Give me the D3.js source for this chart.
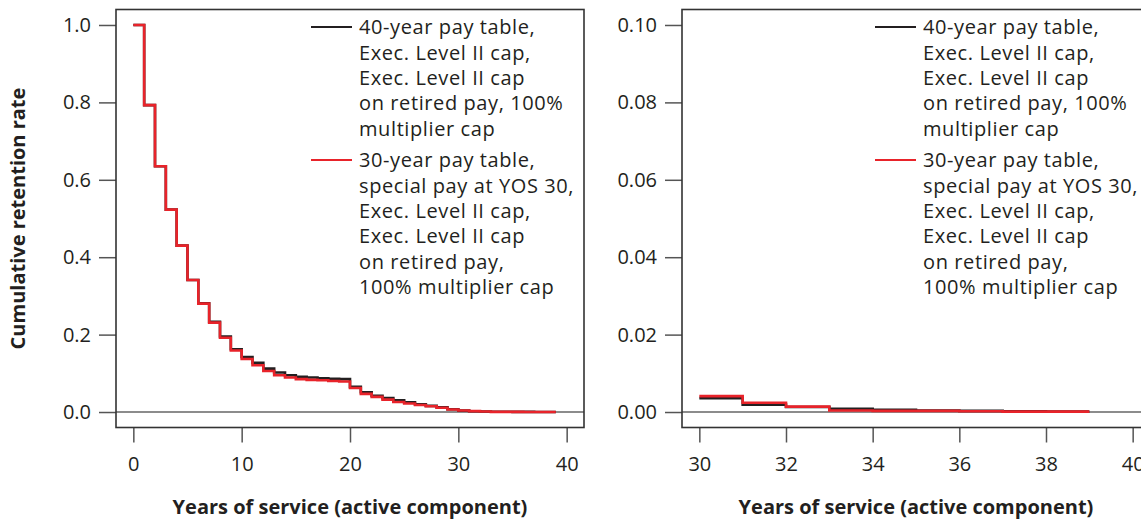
<!DOCTYPE html>
<html>
<head>
<meta charset="utf-8">
<script src="https://cdn.jsdelivr.net/npm/d3@7"></script>
<style>
  body { margin: 0; background: #fff; }
  svg { display: block; font-family: "Open Sans", sans-serif; }
</style>
</head>
<body>
<svg id="canvas" width="1141" height="520"></svg>
<script>
// Years of service
const years = [0, 1, 2, 3, 4, 5, 6, 7, 8, 9, 10, 11, 12, 13, 14, 15, 16, 17, 18, 19,
  20, 21, 22, 23, 24, 25, 26, 27, 28, 29, 30, 31, 32, 33, 34, 35, 36, 37, 38, 39];

// 40-year pay table (black)
const retention40 = [1.000, 0.793, 0.635, 0.523, 0.430, 0.341, 0.281, 0.233, 0.195, 0.162,
  0.142, 0.127, 0.112, 0.102, 0.095, 0.091, 0.089, 0.087, 0.086, 0.085,
  0.065, 0.051, 0.042, 0.036, 0.030, 0.025, 0.020, 0.016, 0.012, 0.007,
  0.0036, 0.0019, 0.0013, 0.0008, 0.0006, 0.0004, 0.0003, 0.0002, 0.0001, 0.0001];

// 30-year pay table with special pay at YOS 30 (red)
const retention30 = [1.000, 0.793, 0.635, 0.523, 0.430, 0.341, 0.280, 0.231, 0.192, 0.159,
  0.137, 0.121, 0.106, 0.095, 0.089, 0.085, 0.083, 0.082, 0.080, 0.079,
  0.062, 0.047, 0.039, 0.032, 0.026, 0.022, 0.018, 0.015, 0.011, 0.0065,
  0.0041, 0.0024, 0.0014, 0.0004, 0.0003, 0.0003, 0.0002, 0.0001, 0.0001, 0.0001];

const leftXTicks = [0, 10, 20, 30, 40];
const leftYTicks = [0, 0.2, 0.4, 0.6, 0.8, 1.0];
const rightXTicks = [30, 32, 34, 36, 38, 40];
const rightYTicks = [0, 0.02, 0.04, 0.06, 0.08, 0.10];

const legend40 = ["40-year pay table,", "Exec. Level II cap,", "Exec. Level II cap",
  "on retired pay, 100%", "multiplier cap"];
const legend30 = ["30-year pay table,", "special pay at YOS 30,", "Exec. Level II cap,",
  "Exec. Level II cap", "on retired pay,", "100% multiplier cap"];

const xTitle = "Years of service (active component)";
const yTitle = "Cumulative retention rate";

const BLACK = "#231f20";
const RED = "#e8232a";
const TEXT = "#231f20";

const svg = d3.select("#canvas");

const plotTop = 9.5, plotBottom = 427.5, panelW = 468;

// R style 4% padding on each side of the limits
const pad = (lo, hi) => { const d = (hi - lo) * 0.04; return [lo - d, hi + d]; };

const drawPanel = (left, xLim, yLim, xTicks, yTicks, yFmt, minYear, legendX) => {
  const x = d3.scaleLinear().domain(pad(...xLim)).range([left, left + panelW]);
  const y = d3.scaleLinear().domain(pad(...yLim)).range([plotBottom, plotTop]);
  const g = svg.append("g");

  // y axis ticks and labels
  const yAxis = d3.axisLeft(y).tickValues(yTicks).tickFormat(yFmt)
    .tickSize(17).tickPadding(8).tickSizeOuter(0);
  const ya = g.append("g").attr("transform", `translate(${left},0)`).call(yAxis);
  ya.select(".domain").remove();
  ya.selectAll("line").attr("stroke", "#555").attr("stroke-width", 1.5);
  ya.selectAll("text").attr("fill", TEXT).style("font-size", "20px")
    .style("font-family", "'Open Sans', sans-serif");

  // x axis ticks and labels
  const xAxis = d3.axisBottom(x).tickValues(xTicks).tickFormat(d3.format("d"))
    .tickSize(15).tickPadding(14).tickSizeOuter(0);
  const xa = g.append("g").attr("transform", `translate(0,${plotBottom})`).call(xAxis);
  xa.select(".domain").remove();
  xa.selectAll("line").attr("stroke", "#555").attr("stroke-width", 1.5);
  xa.selectAll("text").attr("fill", TEXT).style("font-size", "20px")
    .style("font-family", "'Open Sans', sans-serif");

  // zero reference line
  g.append("line")
    .attr("x1", left).attr("x2", left + panelW)
    .attr("y1", y(0)).attr("y2", y(0))
    .attr("stroke", "#666").attr("stroke-width", 1.5);

  // step lines
  const line = d3.line()
    .x((d) => x(d.year))
    .y((d) => y(d.value))
    .curve(d3.curveStepAfter);

  const series = [
    { values: retention40, color: BLACK },
    { values: retention30, color: RED },
  ];
  series.forEach((s) => {
    const pts = years.map((yr, i) => ({ year: yr, value: s.values[i] }))
      .filter((d) => d.year >= minYear);
    g.append("path")
      .datum(pts)
      .attr("d", line)
      .attr("fill", "none")
      .attr("stroke", s.color)
      .attr("stroke-width", 2.6);
  });

  // frame
  g.append("rect")
    .attr("x", left).attr("y", plotTop)
    .attr("width", panelW).attr("height", plotBottom - plotTop)
    .attr("fill", "none").attr("stroke", "#333").attr("stroke-width", 1.6);

  // legend
  const lx = legendX, lineH = 25.4;
  const entries = [
    { lines: legend40, color: BLACK, y0: 27 },
    { lines: legend30, color: RED, y0: 160 },
  ];
  entries.forEach((e) => {
    g.append("line")
      .attr("x1", lx).attr("x2", lx + 41)
      .attr("y1", e.y0).attr("y2", e.y0)
      .attr("stroke", e.color).attr("stroke-width", 2.2);
    g.append("g").selectAll("text")
      .data(e.lines)
      .join("text")
      .attr("x", lx + 48)
      .attr("y", (d, i) => e.y0 + i * lineH)
      .attr("dy", "0.36em")
      .attr("fill", TEXT)
      .style("font-size", "20px")
      .style("letter-spacing", "0.6px")
      .text((d) => d);
  });

  // x title
  g.append("text")
    .attr("x", left + panelW / 2).attr("y", 514)
    .attr("text-anchor", "middle")
    .attr("fill", TEXT)
    .style("font-size", "20px").style("font-weight", "bold")
    .text(xTitle);

  return { x, y };
};

drawPanel(116, [0, 40], [0, 1], leftXTicks, leftYTicks, d3.format(".1f"), 0, 311);
drawPanel(682, [30, 40], [0, 0.1], rightXTicks, rightYTicks, d3.format(".2f"), 30, 875);

// y title on left panel only
svg.append("text")
  .attr("transform", `translate(25,${(plotTop + plotBottom) / 2}) rotate(-90)`)
  .attr("text-anchor", "middle")
  .attr("fill", TEXT)
  .style("font-size", "20px").style("font-weight", "bold")
  .text(yTitle);
</script>
</body>
</html>
